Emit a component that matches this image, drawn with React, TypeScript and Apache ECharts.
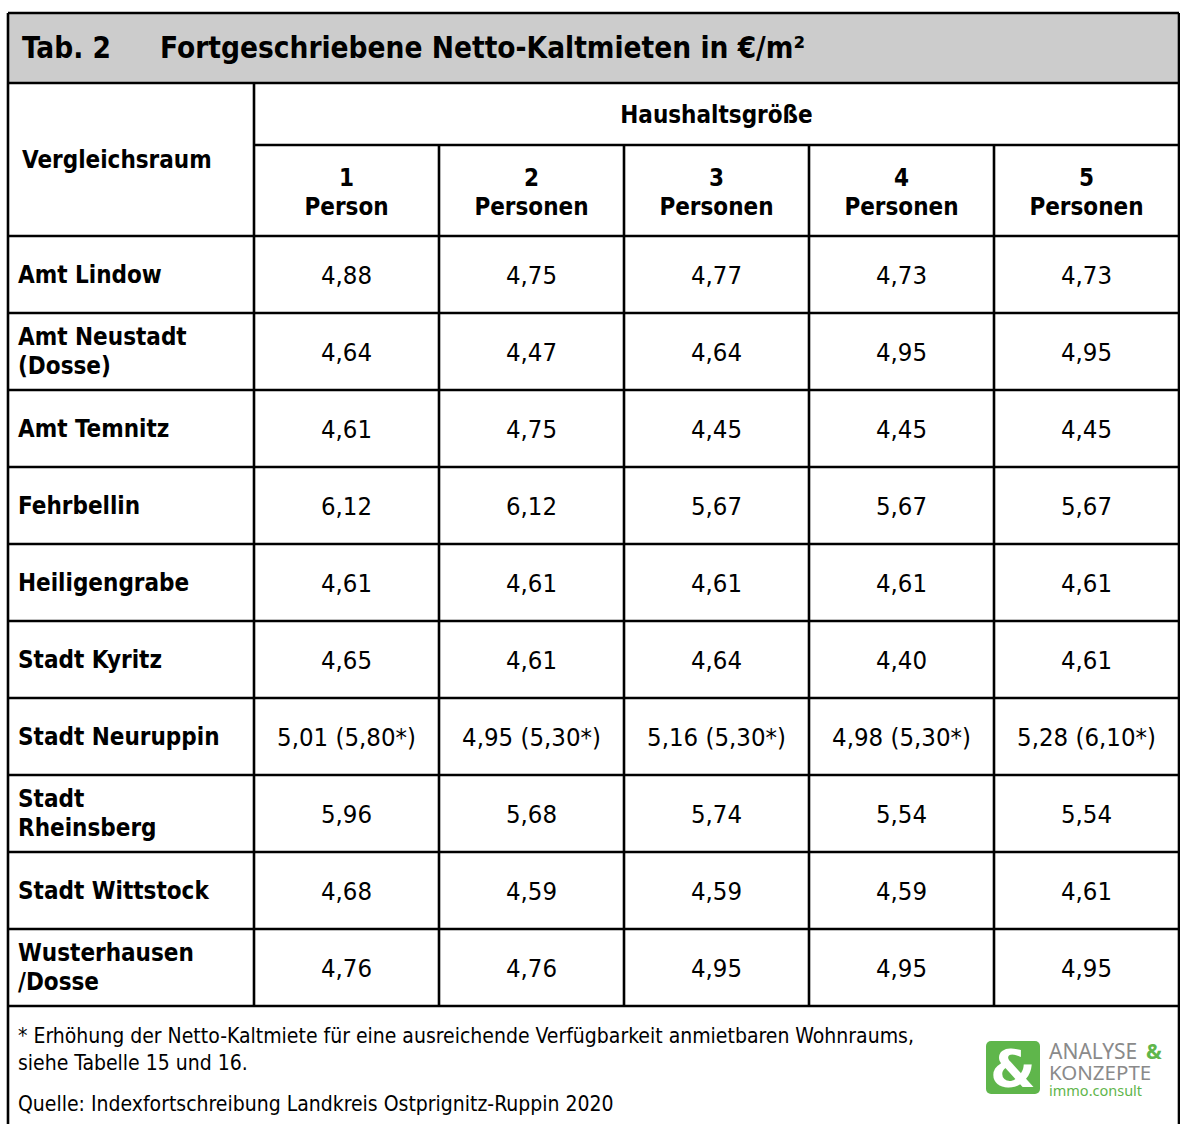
import React, { useEffect, useRef } from "react";
import * as echarts from "echarts";

const titleLabel = "Tab. 2";
const titleText = "Fortgeschriebene Netto-Kaltmieten in €/m²";
const regionHeader = "Vergleichsraum";
const groupHeader = "Haushaltsgröße";
const columnHeads = ["1\nPerson", "2\nPersonen", "3\nPersonen", "4\nPersonen", "5\nPersonen"];
const regions = [
  "Amt Lindow",
  "Amt Neustadt\n(Dosse)",
  "Amt Temnitz",
  "Fehrbellin",
  "Heiligengrabe",
  "Stadt Kyritz",
  "Stadt Neuruppin",
  "Stadt\nRheinsberg",
  "Stadt Wittstock",
  "Wusterhausen\n/Dosse",
];
const person1 = [4.88, 4.64, 4.61, 6.12, 4.61, 4.65, 5.01, 5.96, 4.68, 4.76];
const person2 = [4.75, 4.47, 4.75, 6.12, 4.61, 4.61, 4.95, 5.68, 4.59, 4.76];
const person3 = [4.77, 4.64, 4.45, 5.67, 4.61, 4.64, 5.16, 5.74, 4.59, 4.95];
const person4 = [4.73, 4.95, 4.45, 5.67, 4.61, 4.4, 4.98, 5.54, 4.59, 4.95];
const person5 = [4.73, 4.95, 4.45, 5.67, 4.61, 4.61, 5.28, 5.54, 4.61, 4.95];
const raisedRegion = "Stadt Neuruppin";
const raisedValues = [5.8, 5.3, 5.3, 5.3, 6.1];
const footnote = "* Erhöhung der Netto-Kaltmiete für eine ausreichende Verfügbarkeit anmietbaren Wohnraums,\nsiehe Tabelle 15 und 16.";
const source = "Quelle: Indexfortschreibung Landkreis Ostprignitz-Ruppin 2020";

const fmt = (v: number) => v.toFixed(2).replace(".", ",");

export default function App() {
  const ref = useRef<HTMLDivElement>(null);
  useEffect(() => {
    document.body.style.margin = "0";
    const chart = echarts.init(ref.current!, null, { renderer: "svg" });
    const FONT = "'DejaVu Sans Condensed', 'DejaVu Sans'";
    const L = 8, R = 1179, T = 13, B = 1124;
    const titleB = 83, groupB = 145, headB = 236, rowH = 77;
    const colX = [254, 439, 624, 809, 994, 1179];
    const nRows = regions.length;
    const tableB = headB + rowH * nRows;
    const cols = [person1, person2, person3, person4, person5];
    const lw = 2.6;
    const green = "#5fb64b";
    const g: any[] = [];
    g.push({ type: "rect", shape: { x: L, y: T, width: R - L, height: titleB - T }, style: { fill: "#cccccc" } });
    const line = (x1: number, y1: number, x2: number, y2: number) =>
      g.push({ type: "line", shape: { x1, y1, x2, y2 }, style: { stroke: "#000", lineWidth: lw } });
    line(L, T, R, T);
    line(L, titleB, R, titleB);
    line(colX[0], groupB, R, groupB);
    line(L, headB, R, headB);
    for (let i = 1; i <= nRows; i++) line(L, headB + i * rowH, R, headB + i * rowH);
    line(L, T, L, B);
    line(R, T, R, B);
    line(colX[0], titleB, colX[0], tableB);
    for (let c = 1; c < 5; c++) line(colX[c], groupB, colX[c], tableB);

    const text = (x: number, y: number, t: string, o: any = {}) =>
      g.push({
        type: "text",
        x,
        y,
        style: {
          text: t,
          fontFamily: o.font || FONT,
          fontSize: o.size || 20,
          fontWeight: o.bold ? "bold" : "normal",
          fill: o.fill || "#000",
          align: o.align || "left",
          verticalAlign: o.va || "middle",
          lineHeight: o.lh || 29,
        },
      });
    text(22, 48, titleLabel, { size: 29.5, bold: true });
    text(160, 48, titleText, { size: 29.5, bold: true });
    text(22, 160, regionHeader, { size: 24, bold: true });
    text((colX[0] + R) / 2, 115, groupHeader, { size: 24, bold: true, align: "center" });
    columnHeads.forEach((h, c) => text((colX[c] + colX[c + 1]) / 2, 192, h, { size: 24, bold: true, align: "center" }));
    regions.forEach((r, i) => {
      const cy = headB + rowH * i + rowH / 2;
      text(18, cy, r, { size: 24, bold: true });
      cols.forEach((col, c) => {
        let s = fmt(col[i]);
        if (r === raisedRegion) s += " (" + fmt(raisedValues[c]) + "*)";
        text((colX[c] + colX[c + 1]) / 2, cy, s, { size: 25.5, align: "center" });
      });
    });
    text(18, 1049, footnote, { size: 21, lh: 27 });
    text(18, 1104, source, { size: 21 });

    // logo
    g.push({ type: "rect", shape: { x: 986, y: 1041, width: 54, height: 53, r: 5 }, style: { fill: green } });
    text(1013, 1069, "&", { size: 52, bold: true, fill: "#fff", align: "center", font: "DejaVu Sans" });
    const logoText = (x: number, y: number, t: string, size: number, fill: string, weight = "normal") =>
      g.push({
        type: "text", x, y,
        style: { text: t, fontFamily: "Noto Sans", fontSize: size, fontWeight: weight, fill, verticalAlign: "middle", lineHeight: size },
      });
    logoText(1049, 1051, "ANALYSE", 21, "#8a8a8a");
    logoText(1146, 1051, "&", 21, green, "bold");
    logoText(1049, 1071.5, "KONZEPTE", 20.5, "#8a8a8a");
    logoText(1049, 1090, "immo.consult", 14.5, green);

    chart.setOption({ animation: false, backgroundColor: "#fff", graphic: g });
    return () => chart.dispose();
  }, []);
  return <div ref={ref} style={{ width: 1180, height: 1124 }} />;
}
